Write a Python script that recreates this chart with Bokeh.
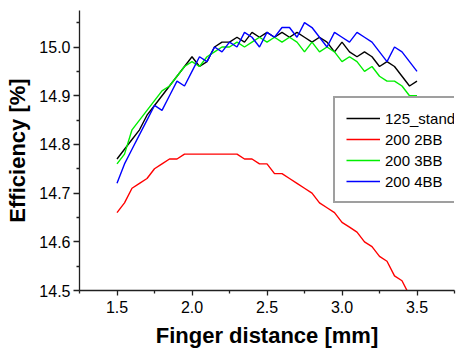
from bokeh.plotting import figure
from bokeh.models import FixedTicker, PrintfTickFormatter, Legend, LegendItem, Range1d
from bokeh.embed import file_html
from bokeh.resources import INLINE

x = [1.5, 1.55, 1.6, 1.65, 1.7, 1.75, 1.8, 1.85, 1.9, 1.95, 2.0, 2.05, 2.1, 2.15, 2.2, 2.25, 2.3,
     2.35, 2.4, 2.45, 2.5, 2.55, 2.6, 2.65, 2.7, 2.75, 2.8, 2.85, 2.9, 2.95, 3.0, 3.05, 3.1, 3.15,
     3.2, 3.25, 3.3, 3.35, 3.4, 3.45, 3.5]

stand_125 = [14.77, 14.79, 14.81, 14.83, 14.86, 14.88, 14.90, 14.92, 14.94, 14.96, 14.98, 14.96,
             14.97, 15.00, 15.01, 15.01, 15.02, 15.01, 15.03, 15.02, 15.03, 15.02, 15.03, 15.02,
             15.03, 15.02, 15.01, 15.02, 15.01, 14.99, 15.01, 14.99, 14.98, 14.99, 14.98, 14.96,
             14.97, 14.96, 14.94, 14.92, 14.93]

bb2_200 = [14.66, 14.68, 14.71, 14.72, 14.73, 14.75, 14.76, 14.77, 14.77, 14.78, 14.78, 14.78,
           14.78, 14.78, 14.78, 14.78, 14.78, 14.77, 14.77, 14.76, 14.76, 14.74, 14.74, 14.73,
           14.72, 14.71, 14.70, 14.68, 14.67, 14.66, 14.64, 14.63, 14.62, 14.60, 14.59, 14.57,
           14.56, 14.53, 14.52, 14.49, 14.47]

bb3_200 = [14.76, 14.78, 14.83, 14.85, 14.87, 14.89, 14.91, 14.92, 14.94, 14.96, 14.97, 14.96,
           14.98, 14.99, 15.00, 15.00, 15.01, 15.00, 15.01, 15.02, 15.01, 15.02, 15.01, 15.02,
           15.01, 14.99, 15.01, 14.99, 15.00, 14.99, 14.97, 14.98, 14.97, 14.95, 14.96, 14.94,
           14.93, 14.93, 14.92, 14.90, 14.90]

bb4_200 = [14.72, 14.76, 14.79, 14.82, 14.85, 14.88, 14.87, 14.90, 14.93, 14.92, 14.95, 14.98,
           14.97, 15.00, 14.99, 15.01, 15.00, 15.03, 15.02, 15.00, 15.03, 15.02, 15.04, 15.04,
           15.02, 15.05, 15.04, 15.02, 15.00, 15.03, 15.02, 15.01, 15.03, 15.02, 15.01, 14.99,
           14.97, 15.00, 14.99, 14.97, 14.95]

series_names = ["125_stand", "200 2BB", "200 3BB", "200 4BB"]
series_values = [stand_125, bb2_200, bb3_200, bb4_200]
series_colors = ["#000000", "#ff0000", "#00ee00", "#0000ff"]

x_ticks = [1.5, 2.0, 2.5, 3.0, 3.5]
x_minor = [1.25, 1.75, 2.25, 2.75, 3.25, 3.75]
y_ticks = [14.5, 14.6, 14.7, 14.8, 14.9, 15.0]
y_minor = [14.55, 14.65, 14.75, 14.85, 14.95, 15.05]

p = figure(width=469, height=352, output_backend="svg", toolbar_location=None,
           x_range=Range1d(1.25, 3.75), y_range=Range1d(14.5, 15.075),
           min_border_left=79, min_border_right=15, min_border_top=10, min_border_bottom=62)
p.outline_line_color = None
p.xgrid.visible = False
p.ygrid.visible = False
p.background_fill_color = "white"
p.border_fill_color = "white"

items = []
for name, vals, col in zip(series_names, series_values, series_colors):
    r = p.line(x, vals, line_color=col, line_width=1.4)
    items.append(LegendItem(label=name, renderers=[r]))

for ax in (p.xaxis[0], p.yaxis[0]):
    ax.axis_line_color = "#202020"
    ax.axis_line_width = 1.3
    ax.major_tick_line_color = "#202020"
    ax.minor_tick_line_color = "#202020"
    ax.major_tick_line_width = 1.3
    ax.minor_tick_line_width = 1.3
    ax.major_tick_in = 0
    ax.minor_tick_out = 3
    ax.minor_tick_in = 0
    ax.major_label_text_font = "Liberation Sans"
    ax.major_label_text_font_size = "16px"
    ax.major_label_text_color = "#000000"
    ax.axis_label_text_font = "Liberation Sans"
    ax.axis_label_text_font_style = "bold"
    ax.axis_label_text_font_size = "22px"
    ax.axis_label_text_color = "#000000"

p.xaxis[0].major_tick_out = 5
p.yaxis[0].major_tick_out = 6
p.xaxis[0].ticker = FixedTicker(ticks=x_ticks, minor_ticks=x_minor)
p.yaxis[0].ticker = FixedTicker(ticks=y_ticks, minor_ticks=y_minor)
p.xaxis[0].formatter = PrintfTickFormatter(format="%.1f")
p.yaxis[0].formatter = PrintfTickFormatter(format="%.1f")
p.xaxis[0].axis_label = "Finger distance [mm]"
p.yaxis[0].axis_label = "Efficiency [%]"
p.xaxis[0].major_label_standoff = 5
p.xaxis[0].axis_label_standoff = 7
p.yaxis[0].major_label_standoff = 3
p.yaxis[0].axis_label_standoff = 6

legend = Legend(items=items, location=(254, 87))
legend.border_line_color = "#404040"
legend.border_line_width = 2
legend.background_fill_color = "white"
legend.background_fill_alpha = 1
legend.label_text_font = "Liberation Sans"
legend.label_text_font_size = "15px"
legend.label_text_color = "#000000"
legend.glyph_width = 34
legend.glyph_height = 18
legend.label_height = 18
legend.label_standoff = 5
legend.spacing = 3
legend.padding = 11
legend.margin = 0
p.add_layout(legend, "center")

open("out.html", "w").write(file_html(p, INLINE))
